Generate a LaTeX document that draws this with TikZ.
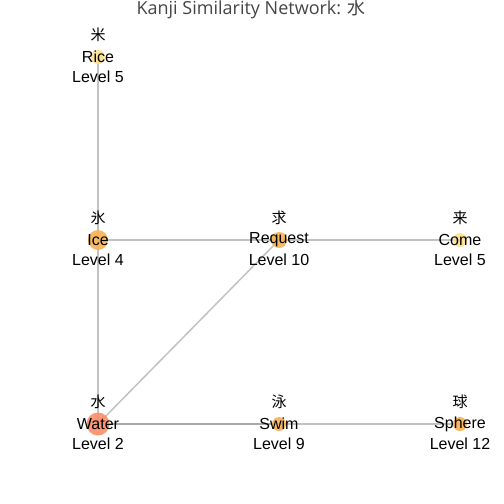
\documentclass[tikz,border=0pt]{standalone}
\usepackage{fontspec}
\setmainfont{Liberation Sans}
\newfontfamily\titlefont{Open Sans}
\newfontfamily\cjk{Noto Sans CJK JP}
\definecolor{edgec}{HTML}{999999}
\definecolor{salmon}{HTML}{FC8D67}
\definecolor{orangec}{HTML}{F8B152}
\definecolor{yellowc}{HTML}{FCE08A}
\definecolor{titlec}{HTML}{444444}
\tikzset{
  edge/.style={draw=edgec, line width=1.5pt, draw opacity=0.6},
  dot/.style={circle, inner sep=0pt, draw=none, fill opacity=0.9},
  lbl/.style={font=\fontsize{16}{16}\selectfont, text=black, inner sep=0pt},
  kj/.style={font=\cjk\fontsize{15}{15}\selectfont, text=black, inner sep=0pt}
}
\begin{document}
\begin{tikzpicture}[x=1pt,y=-1pt]
\useasboundingbox (0,0) rectangle (504,504);
\node[font=\titlefont\fontsize{18}{18}\selectfont, text=titlec, inner sep=0pt] (title) at (251,9.5) {Kanji Similarity Network: {\cjk 水}};
% node centres
\coordinate (rice) at (98,57);
\coordinate (ice) at (98,240);
\coordinate (req) at (279,240);
\coordinate (come) at (460,240);
\coordinate (water) at (98,424);
\coordinate (swim) at (279,424);
\coordinate (sphere) at (460,424);
% edges
\draw[edge] (rice) -- (ice);
\draw[edge] (ice) -- (water);
\draw[edge] (ice) -- (req);
\draw[edge] (req) -- (come);
\draw[edge] (req) -- (water);
\draw[edge] (water) -- (swim);
\draw[edge] (water) -- (sphere);
% dots
\node[dot, fill=yellowc, minimum size=14pt] (riced) at (rice) {};
\node[dot, fill=orangec, minimum size=20pt] (iced) at (ice) {};
\node[dot, fill=orangec, minimum size=16pt] (reqd) at (req) {};
\node[dot, fill=yellowc, minimum size=14pt] (comed) at (come) {};
\node[dot, fill=salmon, minimum size=23pt] (waterd) at (water) {};
\node[dot, fill=orangec, minimum size=14pt] (swimd) at (swim) {};
\node[dot, fill=orangec, minimum size=14pt] (sphered) at (sphere) {};
% labels
\foreach \n/\k/\e/\l in {rice/米/Rice/5, ice/氷/Ice/4, req/求/Request/10, come/来/Come/5, water/水/Water/2, swim/泳/Swim/9, sphere/球/Sphere/12}{
  \node[kj] (\n k) at ([yshift=22pt]\n) {\k};
  \node[lbl] (\n e) at (\n) {\e};
  \node[lbl] (\n l) at ([yshift=-20pt]\n) {Level \l};
}
\end{tikzpicture}
\end{document}
